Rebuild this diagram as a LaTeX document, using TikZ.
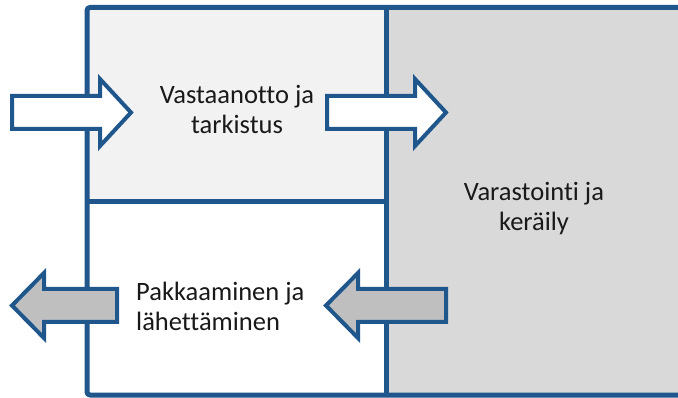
\documentclass[tikz,border=0pt]{standalone}
\usepackage{fontspec}
\setmainfont[Ligatures={NoCommon,NoContextual}]{Carlito}
\definecolor{frameblue}{RGB}{31,86,140}
\definecolor{lightcell}{RGB}{242,242,242}
\definecolor{darkcell}{RGB}{217,217,217}
\definecolor{arrowgrey}{RGB}{191,191,191}
\tikzset{
  frameline/.style={draw=frameblue, line width=5pt, line join=round},
  arrowshape/.style={draw=frameblue, line width=4pt, line join=miter},
  lbl/.style={font=\fontsize{26.5}{30}\selectfont, inner sep=0pt, text=black!90}
}
\begin{document}
\begin{tikzpicture}[x=1pt, y=-1pt]
\useasboundingbox (0,0) rectangle (678,398);
\begin{scope}
\clip (0,0) rectangle (678,398);
% cell fills
\fill[lightcell] (87,7.5) rectangle (386,202);
\fill[darkcell] (386,7.5) rectangle (700,395);
\fill[white] (87,202) rectangle (386,395);
% frame
\draw[frameline, rounded corners=3pt] (700,7.5) -- (87,7.5) -- (87,395) -- (700,395);
\draw[frameline] (386,7.5) -- (386,395);
\draw[frameline] (87,202) -- (386,202);
\end{scope}
% arrows
\draw[arrowshape, fill=white] (12,96) -- (100,96) -- (100,79) -- (131,112.5) -- (100,146) -- (100,129) -- (12,129) -- cycle;
\draw[arrowshape, fill=white] (327,96) -- (415,96) -- (415,79) -- (446,112.5) -- (415,146) -- (415,129) -- (327,129) -- cycle;
\draw[arrowshape, fill=arrowgrey] (117,289) -- (44,289) -- (44,273) -- (12,305.5) -- (44,338) -- (44,322) -- (117,322) -- cycle;
\draw[arrowshape, fill=arrowgrey] (446,289) -- (358,289) -- (358,273) -- (326,305.5) -- (358,338) -- (358,322) -- (446,322) -- cycle;
% labels
\node[lbl, align=center] (recv) at (237,109) {Vastaanotto ja\\tarkistus};
\node[lbl, align=center] (store) at (534,209) {Varastointi ja\\keräily};
\node[lbl, align=left, anchor=west] (pack) at (136,306) {Pakkaaminen ja\\lähettäminen};
\end{tikzpicture}
\end{document}
